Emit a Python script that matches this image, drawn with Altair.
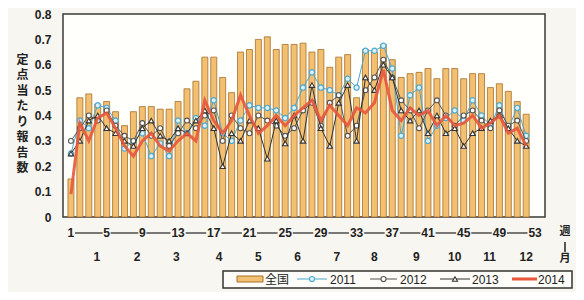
import altair as alt
import pandas as pd

# ---------------- data ----------------
weeks = list(range(1, 53))
national = [0.15, 0.47, 0.485, 0.445, 0.455, 0.415, 0.36, 0.415, 0.435, 0.435, 0.425, 0.425, 0.455,
            0.505, 0.535, 0.63, 0.63, 0.55, 0.49, 0.65, 0.66, 0.70, 0.71, 0.66, 0.68, 0.68,
            0.685, 0.65, 0.66, 0.59, 0.63, 0.64, 0.47, 0.66, 0.65, 0.68, 0.62, 0.55, 0.565,
            0.57, 0.585, 0.545, 0.585, 0.585, 0.545, 0.565, 0.565, 0.51, 0.525, 0.495, 0.455, 0.405]
y2011 = [0.25, 0.38, 0.35, 0.44, 0.43, 0.38, 0.27, 0.30, 0.33, 0.24, 0.29, 0.24, 0.38,
         0.33, 0.39, 0.36, 0.46, 0.33, 0.30, 0.38, 0.44, 0.43, 0.43, 0.42, 0.39, 0.43,
         0.51, 0.57, 0.51, 0.50, 0.48, 0.545, 0.51, 0.655, 0.655, 0.675, 0.585, 0.32, 0.48,
         0.51, 0.30, 0.36, 0.39, 0.42, 0.38, 0.46, 0.40, 0.36, 0.44, 0.35, 0.43, 0.32]
y2012 = [0.30, 0.35, 0.40, 0.38, 0.42, 0.36, 0.32, 0.30, 0.37, 0.32, 0.35, 0.28, 0.33,
         0.38, 0.35, 0.40, 0.42, 0.30, 0.40, 0.35, 0.33, 0.40, 0.38, 0.36, 0.32, 0.35,
         0.42, 0.45, 0.36, 0.45, 0.48, 0.32, 0.36, 0.50, 0.55, 0.62, 0.55, 0.46, 0.42,
         0.35, 0.42, 0.46, 0.40, 0.36, 0.40, 0.42, 0.38, 0.35, 0.42, 0.36, 0.38, 0.30]
y2013 = [0.25, 0.30, 0.38, 0.40, 0.35, 0.33, 0.30, 0.28, 0.35, 0.38, 0.32, 0.30, 0.35,
         0.33, 0.38, 0.42, 0.35, 0.20, 0.33, 0.30, 0.38, 0.35, 0.23, 0.38, 0.29, 0.40,
         0.30, 0.52, 0.35, 0.28, 0.45, 0.52, 0.30, 0.55, 0.50, 0.60, 0.55, 0.42, 0.38,
         0.42, 0.33, 0.40, 0.33, 0.35, 0.28, 0.33, 0.35, 0.38, 0.40, 0.35, 0.30, 0.28]
y2014 = [0.09, 0.37, 0.30, 0.39, 0.41, 0.35, 0.28, 0.24, 0.30, 0.33, 0.28, 0.26, 0.30,
         0.33, 0.30, 0.46, 0.38, 0.33, 0.38, 0.48, 0.40, 0.33, 0.36, 0.40, 0.36, 0.40,
         0.43, 0.46, 0.38, 0.44, 0.40, 0.36, 0.43, 0.41, 0.45, 0.58, 0.42, 0.38, 0.43,
         0.40, 0.42, 0.36, 0.40, 0.36, 0.37, 0.40, 0.35, 0.37, 0.40, 0.33, 0.35, 0.28]

week_ticks = [1, 5, 9, 13, 17, 21, 25, 29, 33, 37, 41, 45, 49, 53]
month_labels = ["1", "2", "3", "4", "5", "6", "7", "8", "9", "10", "11", "12"]
month_pos = [3.9, 8.4, 12.8, 17.6, 22.0, 26.4, 30.8, 35.0, 39.7, 44.0, 47.9, 52.0]
y_ticks = [0, 0.1, 0.2, 0.3, 0.4, 0.5, 0.6, 0.7, 0.8]
y_title = "定点当たり報告数"
legend_labels = ["全国", "2011", "2012", "2013", "2014"]
unit_labels = ["週", "月"]

# ---------------- style ----------------
W, H = 482, 203
FONT = "Liberation Sans"
JFONT = "Noto Sans CJK JP"
BAR_FILL, BAR_STROKE = "#f3c071", "#a4702c"
C11, C11F = "#4aa8cf", "#dcf0f7"
C12 = "#555555"
C13 = "#333333"
C14 = "#e8573c"
TXT = "#222222"

xs = alt.Scale(domain=[0.67, 53.55], nice=False, zero=False)
ys = alt.Scale(domain=[0, 0.8], nice=False)

YAX = alt.Axis(
    values=y_ticks, labelOverlap=False,
    labelExpr="datum.value == 0 ? '0' : format(datum.value, '.1f')",
    ticks=False, domain=False, grid=False,
    labelFont=FONT, labelFontSize=12, labelFontWeight="bold", labelColor=TXT, labelPadding=12,
    title=list(y_title), titleAngle=0, titleX=-41, titleY=40, titleAlign="center",
    titleBaseline="top", titleLineHeight=15.5, titleFont=JFONT, titleFontSize=12,
    titleFontWeight="bold", titleColor=TXT)

df = pd.DataFrame({"week": weeks, "national": national, "y2011": y2011,
                   "y2012": y2012, "y2013": y2013, "y2014": y2014})
X = alt.X("week:Q", scale=xs, axis=None)

def Y(field):
    return alt.Y(field, scale=ys, axis=YAX)

bars = alt.Chart(df).mark_bar(width=6, fill=BAR_FILL, stroke=BAR_STROKE, strokeWidth=0.8).encode(
    x=X, y=Y("national:Q"))

base = alt.Chart(df)
l11 = base.mark_line(color=C11, strokeWidth=1).encode(x=X, y=Y("y2011:Q"))
p11 = base.mark_point(shape="circle", filled=True, fill=C11F, stroke=C11, strokeWidth=1.2, size=28, opacity=1).encode(
    x=X, y=Y("y2011:Q"))
l12 = base.mark_line(color=C12, strokeWidth=1).encode(x=X, y=Y("y2012:Q"))
p12 = base.mark_point(shape="circle", filled=True, fill="white", stroke=C12, strokeWidth=1.1, size=24, opacity=1).encode(
    x=X, y=Y("y2012:Q"))
l13 = base.mark_line(color=C13, strokeWidth=1).encode(x=X, y=Y("y2013:Q"))
p13 = base.mark_point(shape="triangle-up", filled=True, fill="white", stroke=C13, strokeWidth=1.1, size=28, opacity=1).encode(
    x=X, y=Y("y2013:Q"))
l14 = base.mark_line(color=C14, strokeWidth=3, opacity=0.9).encode(x=X, y=Y("y2014:Q"))

# week tick labels with connecting segments
tick_df = pd.DataFrame({"week": week_ticks, "label": [str(w) for w in week_ticks]})
def half(w):
    return 0.45 if w < 10 else 0.85
seg_df = pd.DataFrame({
    "a": [a + half(a) for a in week_ticks[:-1]],
    "b": [b - half(b) for b in week_ticks[1:]],
})
week_text = alt.Chart(tick_df).mark_text(font=FONT, fontSize=12, fontWeight="bold", color=TXT).encode(
    x=X, y=alt.value(219), text="label:N")
week_seg = alt.Chart(seg_df).mark_rule(color="#333333", strokeWidth=1.3).encode(
    x=alt.X("a:Q", scale=xs, axis=None), x2="b:Q", y=alt.value(219))

month_df = pd.DataFrame({"week": month_pos, "label": month_labels})
month_text = alt.Chart(month_df).mark_text(font=FONT, fontSize=12, fontWeight="bold", color=TXT).encode(
    x=X, y=alt.value(243), text="label:N")

one = pd.DataFrame({"a": [0]})
unit_top = alt.Chart(one).mark_text(font=JFONT, fontSize=11, fontWeight="bold", color=TXT).encode(
    x=alt.value(502), y=alt.value(218), text=alt.value(unit_labels[0]))
unit_bar = alt.Chart(one).mark_rule(color=TXT, strokeWidth=1.5).encode(
    x=alt.value(502), y=alt.value(228), y2=alt.value(238))
unit_bot = alt.Chart(one).mark_text(font=JFONT, fontSize=11, fontWeight="bold", color=TXT).encode(
    x=alt.value(502), y=alt.value(245), text=alt.value(unit_labels[1]))

# ---------------- legend ----------------
LY = 265
leg = []
leg.append(alt.Chart(one).mark_rect(fill="#fdfcf8", stroke="#333333", strokeWidth=1.5).encode(
    x=alt.value(160), x2=alt.value(509), y=alt.value(257), y2=alt.value(274)))
leg.append(alt.Chart(one).mark_rect(fill=BAR_FILL, stroke=BAR_STROKE, strokeWidth=1).encode(
    x=alt.value(174), x2=alt.value(200), y=alt.value(LY - 3), y2=alt.value(LY + 3)))
leg_items = [
    (234, 264, C11, C11F, "circle", 1, 267),
    (307, 334, C12, "white", "circle", 1, 337),
    (377, 407, C13, "white", "triangle-up", 1, 409),
]
for (x0, x1, col, fillc, shp, sw, xt), lab in zip(leg_items, legend_labels[1:4]):
    leg.append(alt.Chart(one).mark_rule(color=col, strokeWidth=sw).encode(
        x=alt.value(x0), x2=alt.value(x1), y=alt.value(LY)))
    leg.append(alt.Chart(one).mark_point(shape=shp, filled=True, fill=fillc, stroke=col, strokeWidth=1.1,
                                         size=26, opacity=1).encode(
        x=alt.value((x0 + x1) / 2), y=alt.value(LY)))
    leg.append(alt.Chart(one).mark_text(font=FONT, fontSize=12, color=TXT, align="left", baseline="middle").encode(
        x=alt.value(xt), y=alt.value(LY + 1), text=alt.value(lab)))
leg.append(alt.Chart(one).mark_rule(color=C14, strokeWidth=3).encode(
    x=alt.value(449), x2=alt.value(474), y=alt.value(LY)))
leg.append(alt.Chart(one).mark_text(font=FONT, fontSize=12, color=TXT, align="left", baseline="middle").encode(
    x=alt.value(475), y=alt.value(LY + 1), text=alt.value(legend_labels[4])))
leg.append(alt.Chart(one).mark_text(font=JFONT, fontSize=12, color=TXT, align="left", baseline="middle").encode(
    x=alt.value(202), y=alt.value(LY + 1), text=alt.value(legend_labels[0])))

chart = alt.layer(
    bars, l11, p11, l12, p12, l13, p13, l14,
    week_seg, week_text, month_text, unit_top, unit_bar, unit_bot, *leg
).properties(
    width=W, height=H,
    autosize=alt.AutoSizeParams(type="none"),
    padding={"left": 55, "top": 6, "right": 31, "bottom": 75},
    background="#f8f6f0",
).configure_view(stroke="#3a3a3a", strokeWidth=1.5, fill="#fffffb")

chart.save("out.html", embed_options={"renderer": "svg", "actions": False})
